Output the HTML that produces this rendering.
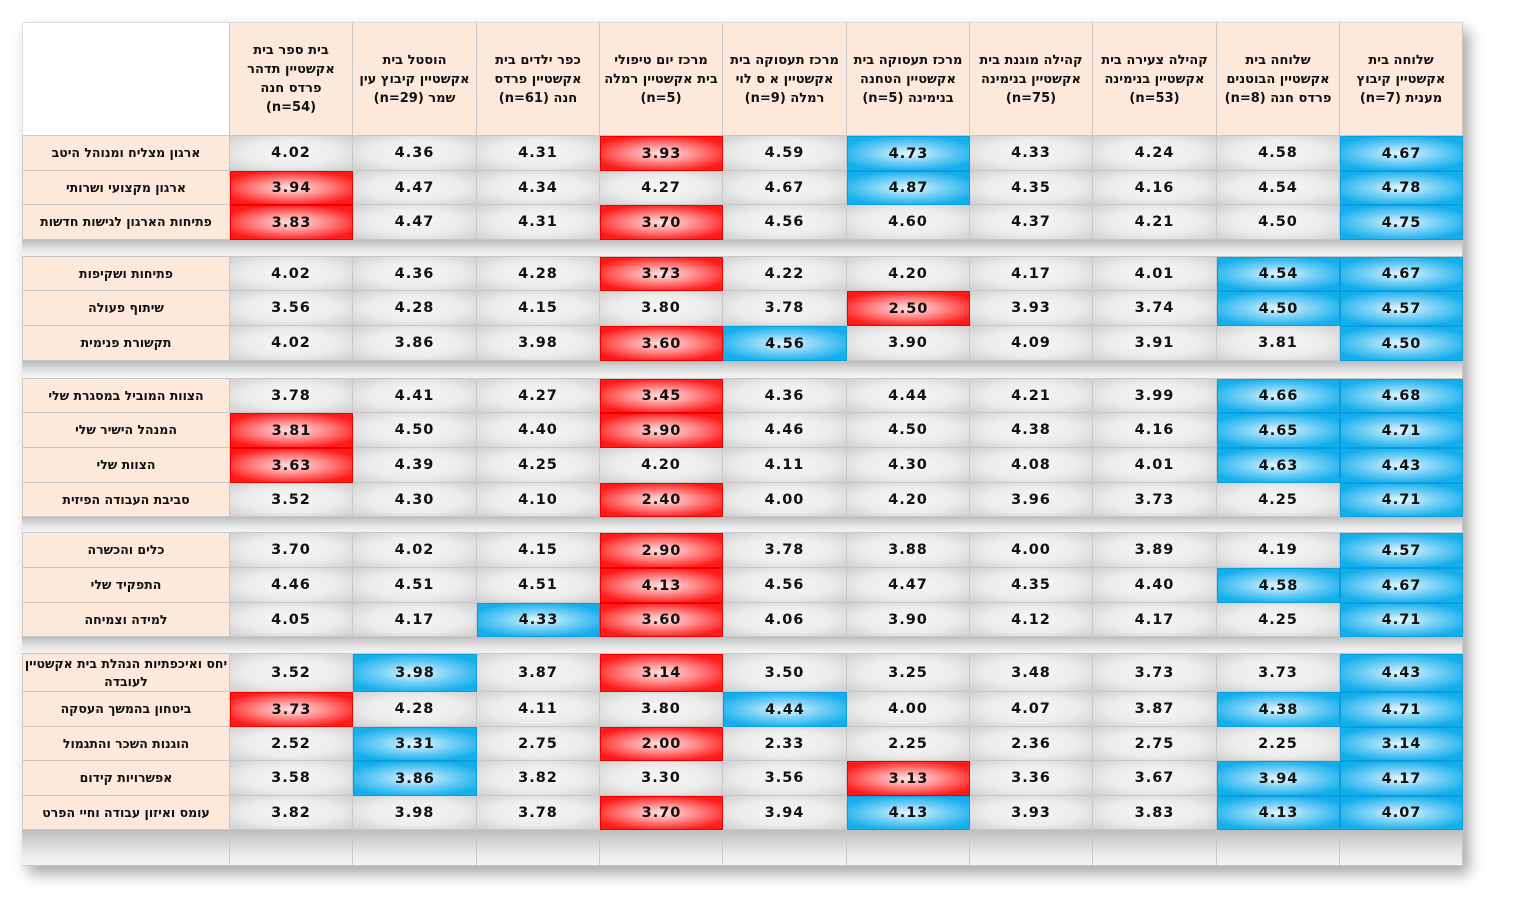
<!DOCTYPE html>
<html><head><meta charset="utf-8">
<style>
body{margin:0;width:1520px;height:924px;background:#fff;position:relative;overflow:hidden;font-family:"DejaVu Sans","Liberation Sans",sans-serif;}
#shadow{position:absolute;left:22px;top:22px;width:1441px;height:844px;box-shadow:6px 8px 14px rgba(0,0,0,0.35);}
.c{position:absolute;box-sizing:border-box;border-right:1px solid #c8c8c8;border-bottom:1px solid #c8c8c8;display:flex;align-items:center;justify-content:center;text-align:center;}
.h{background:#fde9db;font-weight:bold;font-size:13px;line-height:19px;color:#111;padding:0 4px;direction:rtl;}
.l{background:#fde9db;font-weight:bold;font-size:12.5px;color:#111;direction:rtl;line-height:18px;}
.v{background:radial-gradient(ellipse at 50% 50%,#f6f6f6 0%,#ececec 55%,#cfcfcf 100%);font-weight:bold;font-size:14.5px;color:#111;letter-spacing:1px;}
.g{background:linear-gradient(#bdbdbd,#e6e6e6 60%,#f4f4f4);}
.r{background:radial-gradient(ellipse 60% 55% at 50% 50%,#ffe4e4 0%,#ff8f8f 45%,#ff1a1a 100%);border:1px solid #e00;}
.b{background:radial-gradient(ellipse 60% 55% at 50% 50%,#e8f8ff 0%,#7fd3f7 45%,#13aeec 100%);border:1px solid #0a9ee0;}
</style></head><body>
<div id="shadow"></div>
<div id="t"></div>
<script>
const headers=["בית ספר בית אקשטיין  תדהר פרדס חנה (n=54)","הוסטל בית אקשטיין קיבוץ עין שמר (n=29)","כפר ילדים בית אקשטיין  פרדס חנה (n=61)","מרכז יום טיפולי בית אקשטיין רמלה (n=5)","מרכז תעסוקה בית אקשטיין  א ס לוי רמלה (n=9)","מרכז תעסוקה בית אקשטיין  הטחנה בנימינה (n=5)","קהילה מוגנת בית אקשטיין  בנימינה (n=75)","קהילה צעירה בית אקשטיין  בנימינה (n=53)","שלוחה בית אקשטיין  הבוטנים פרדס חנה (n=8)","שלוחה בית אקשטיין  קיבוץ מענית (n=7)"];
const rowLabels=["ארגון מצליח ומנוהל היטב","ארגון מקצועי ושרותי","פתיחות הארגון לגישות חדשות",null,"פתיחות ושקיפות","שיתוף פעולה","תקשורת פנימית",null,"הצוות המוביל במסגרת שלי","המנהל הישיר שלי","הצוות שלי","סביבת העבודה הפיזית",null,"כלים והכשרה","התפקיד שלי","למידה וצמיחה",null,"יחס ואיכפתיות הנהלת בית אקשטיין לעובדה","ביטחון בהמשך העסקה","הוגנות השכר והתגמול","אפשרויות קידום","עומס ואיזון עבודה וחיי הפרט"];
const values=[
[4.02,4.36,4.31,3.93,4.59,4.73,4.33,4.24,4.58,4.67],
[3.94,4.47,4.34,4.27,4.67,4.87,4.35,4.16,4.54,4.78],
[3.83,4.47,4.31,3.70,4.56,4.60,4.37,4.21,4.50,4.75],
null,
[4.02,4.36,4.28,3.73,4.22,4.20,4.17,4.01,4.54,4.67],
[3.56,4.28,4.15,3.80,3.78,2.50,3.93,3.74,4.50,4.57],
[4.02,3.86,3.98,3.60,4.56,3.90,4.09,3.91,3.81,4.50],
null,
[3.78,4.41,4.27,3.45,4.36,4.44,4.21,3.99,4.66,4.68],
[3.81,4.50,4.40,3.90,4.46,4.50,4.38,4.16,4.65,4.71],
[3.63,4.39,4.25,4.20,4.11,4.30,4.08,4.01,4.63,4.43],
[3.52,4.30,4.10,2.40,4.00,4.20,3.96,3.73,4.25,4.71],
null,
[3.70,4.02,4.15,2.90,3.78,3.88,4.00,3.89,4.19,4.57],
[4.46,4.51,4.51,4.13,4.56,4.47,4.35,4.40,4.58,4.67],
[4.05,4.17,4.33,3.60,4.06,3.90,4.12,4.17,4.25,4.71],
null,
[3.52,3.98,3.87,3.14,3.50,3.25,3.48,3.73,3.73,4.43],
[3.73,4.28,4.11,3.80,4.44,4.00,4.07,3.87,4.38,4.71],
[2.52,3.31,2.75,2.00,2.33,2.25,2.36,2.75,2.25,3.14],
[3.58,3.86,3.82,3.30,3.56,3.13,3.36,3.67,3.94,4.17],
[3.82,3.98,3.78,3.70,3.94,4.13,3.93,3.83,4.13,4.07]];
const flags=["...r.b...b","r....b...b","r..r.....b",null,"...r....bb",".....r..bb","...rb....b",null,"...r....bb","r..r....bb","r.......bb","...r.....b",null,"...r.....b","...r....bb","..br.....b",null,".b.r.....b","r...b...bb",".b.r.....b",".b...r..bb","...r.b..bb"];
const colX=[230,353,477,600,723,847,970,1093,1217,1340,1463];
const rowY=[136,171,205,240,257,291,326,361,379,413,448,483,517,533,568,603,637,654,692,727,761,796,830];
const t=document.getElementById('t');
function cell(x,y,w,h,cls,txt){const d=document.createElement('div');d.className='c '+cls;d.style.left=x+'px';d.style.top=y+'px';d.style.width=w+'px';d.style.height=h+'px';if(txt!=null)d.textContent=txt;t.appendChild(d);return d;}
let corner=cell(22,22,208,114,'','');corner.style.borderLeft='1px solid #ddd';corner.style.borderTop='1px solid #ddd';corner.style.background='#fff';


headers.forEach((h,i)=>{const d=cell(colX[i],22,colX[i+1]-colX[i],114,'h',h);d.style.borderTop='1px solid #ddd';

});
rowLabels.forEach((lab,r)=>{const y=rowY[r],h=rowY[r+1]-y;
 if(lab===null){const d=cell(22,y,1441,h,'g','');
  
  return;}
 const l=cell(22,y,208,h,'l',lab);l.style.borderLeft='1px solid #ccc';
 
 
 values[r].forEach((v,i)=>{const f=flags[r][i];const cls=f==='r'?'v r':f==='b'?'v b':'v';
  const d=cell(colX[i],y,colX[i+1]-colX[i],h,cls,v.toFixed(2));
  
  });
});
const e=cell(22,830,208,36,'g','');


for(let i=0;i<10;i++){const d=cell(colX[i],830,colX[i+1]-colX[i],36,'g','');

}
</script>
</body></html>
